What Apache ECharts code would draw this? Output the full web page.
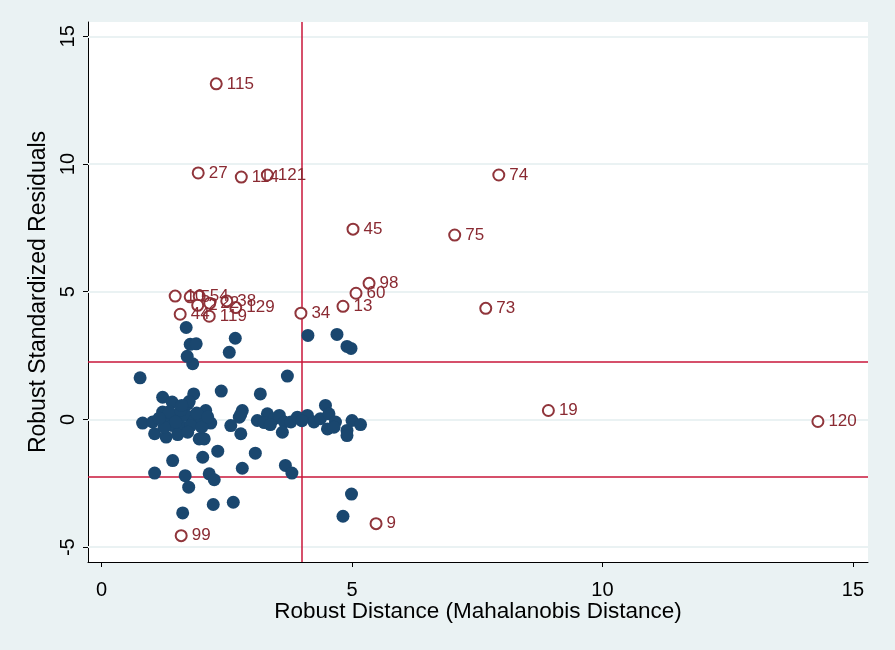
<!DOCTYPE html>
<html>
<head>
<meta charset="utf-8">
<script src="https://cdn.jsdelivr.net/npm/echarts@6/dist/echarts.min.js"></script>
<style>
  html, body { margin: 0; padding: 0; background: #eaf2f3; }
  #chart { width: 895px; height: 650px; }
</style>
</head>
<body>
<div id="chart"></div>
<script>
// tick labels
const xTicks = [0, 5, 10, 15]
const yTicks = [-5, 0, 5, 10, 15]

// cutoffs
const cutoffX = 4.0
const cutoffY = [2.24, -2.24]

// regular observations
const normalX = [
  0.77, 1.82, 3.71, 2.39, 3.17, 1.84, 1.22, 1.41, 1.72, 1.75,
  2.08, 2.81, 2.75, 0.82, 1.02, 1.22, 1.32, 1.52, 1.69, 1.85,
  1.98, 2.18, 1.42, 1.62, 1.78, 1.06, 1.29, 1.52, 1.72, 1.95,
  2.05, 2.58, 2.78, 3.11, 3.31, 3.45, 3.55, 3.65, 3.61, 3.78,
  3.91, 4.11, 4.24, 4.37, 4.47, 4.54, 4.67, 4.51, 4.64, 4.90,
  5.00, 5.17, 4.90, 2.32, 2.02, 1.42, 3.07, 2.81, 3.67, 3.80,
  1.06, 1.67, 2.15, 2.25, 1.74, 2.63, 2.23, 1.62, 4.99, 4.82,
  1.69, 1.77, 1.89, 2.67, 1.71, 2.55, 4.12, 4.70, 4.90, 4.98,
  1.35, 1.58, 1.90, 2.00, 1.25, 1.48, 2.12, 1.15, 3.25, 4.00,
  1.60, 2.78, 3.37
]
const normalY = [
  1.63, 2.18, 1.70, 1.11, 1.00, 1.00, 0.87, 0.68, 0.61, 0.70,
  0.35, 0.35, 0.09, -0.14, -0.10, 0.29, 0.03, 0.09, 0.16, -0.04,
  0.03, -0.14, -0.24, -0.30, -0.24, -0.56, -0.69, -0.59, -0.50, -0.76,
  -0.76, -0.24, -0.56, -0.04, 0.22, 0.03, 0.16, -0.10, -0.50, -0.10,
  0.09, 0.16, -0.10, 0.03, 0.55, 0.22, -0.10, -0.37, -0.30, -0.43,
  -0.04, -0.20, -0.63, -1.24, -1.48, -1.61, -1.32, -1.91, -1.80, -2.10,
  -2.10, -2.20, -2.13, -2.36, -2.65, -3.24, -3.33, -3.66, -2.92, -3.79,
  3.60, 2.94, 2.96, 3.18, 2.47, 2.63, 3.29, 3.33, 2.86, 2.78,
  0.30, 0.35, 0.25, -0.30, -0.30, -0.10, 0.10, 0.05, -0.12, -0.05,
  0.55, 0.20, -0.20
]

// outliers
const outlierIds = [
  '115', '27', '114', '121', '74', '45', '75', '98', '60', '13',
  '34', '73', '19', '120', '9', '99',
  '10', '5', '54', '2', '22', '38', '129', '44', '119'
]
const outlierX = [
  2.29, 1.93, 2.79, 3.31, 7.93, 5.02, 7.05, 5.34, 5.08, 4.82,
  3.98, 7.67, 8.92, 14.30, 5.48, 1.59,
  1.47, 1.77, 1.95, 1.92, 2.16, 2.50, 2.68, 1.57, 2.15
]
const outlierY = [
  13.14, 9.65, 9.49, 9.57, 9.57, 7.45, 7.22, 5.33, 4.94, 4.43,
  4.16, 4.35, 0.35, -0.08, -4.08, -4.55,
  4.83, 4.80, 4.82, 4.47, 4.55, 4.64, 4.38, 4.12, 4.04
]

const chart = echarts.init(document.getElementById('chart'))
const fontFamily = '"Liberation Sans", Arial, sans-serif'

chart.setOption({
  backgroundColor: '#eaf2f3',
  animation: false,
  textStyle: { fontFamily },
  grid: {
    left: 88,
    right: 27,
    top: 22,
    bottom: 88,
    show: true,
    backgroundColor: '#ffffff',
    borderWidth: 0
  },
  xAxis: {
    type: 'value',
    min: -0.27,
    max: 15.3,
    name: 'Robust Distance (Mahalanobis Distance)',
    nameLocation: 'middle',
    nameGap: 38,
    nameMoveOverlap: false,
    nameTextStyle: { fontSize: 22.5, color: '#000', fontFamily },
    axisLine: { show: true, onZero: false, lineStyle: { color: '#000', width: 1 } },
    axisTick: { show: true, length: 5, customValues: xTicks, lineStyle: { color: '#000' } },
    axisLabel: { customValues: xTicks, fontSize: 20, color: '#000', margin: 18, fontFamily },
    splitLine: { show: false }
  },
  yAxis: {
    type: 'value',
    min: -5.58,
    max: 15.56,
    name: 'Robust Standardized Residuals',
    nameLocation: 'middle',
    nameGap: 38,
    nameTextStyle: { fontSize: 23, color: '#000', fontFamily },
    axisLine: { show: true, onZero: false, lineStyle: { color: '#000', width: 1 } },
    axisTick: { show: true, length: 5, customValues: yTicks, lineStyle: { color: '#000' } },
    axisLabel: { customValues: yTicks, fontSize: 20, color: '#000', rotate: 90, margin: 10, fontFamily },
    splitLine: { show: false }
  },
  series: [
    {
      // light gridlines
      type: 'scatter',
      data: [],
      silent: true,
      markLine: {
        silent: true,
        symbol: ['none', 'none'],
        label: { show: false },
        lineStyle: { color: '#eaf2f3', width: 2, type: 'solid' },
        data: yTicks.map(v => ({ yAxis: v }))
      }
    },
    {
      // cutoff lines
      type: 'scatter',
      data: [],
      silent: true,
      markLine: {
        silent: true,
        symbol: ['none', 'none'],
        label: { show: false },
        lineStyle: { color: '#c8163a', width: 1.5, type: 'solid' },
        data: [{ xAxis: cutoffX }].concat(cutoffY.map(v => ({ yAxis: v })))
      }
    },
    {
      type: 'scatter',
      zlevel: 1,
      symbol: 'circle',
      symbolSize: 13,
      itemStyle: { color: '#1a476f', opacity: 1 },
      data: normalX.map((x, i) => [x, normalY[i]])
    },
    {
      type: 'scatter',
      zlevel: 1,
      z: 5,
      symbol: 'emptyCircle',
      symbolSize: 11,
      itemStyle: { color: '#90353b', borderColor: '#90353b', borderWidth: 1.6, opacity: 1 },
      label: {
        show: true,
        position: 'right',
        distance: 4,
        color: '#8a2a32',
        fontSize: 17,
        fontFamily,
        formatter: p => outlierIds[p.dataIndex]
      },
      data: outlierX.map((x, i) => [x, outlierY[i]])
    }
  ]
})
</script>
</body>
</html>
